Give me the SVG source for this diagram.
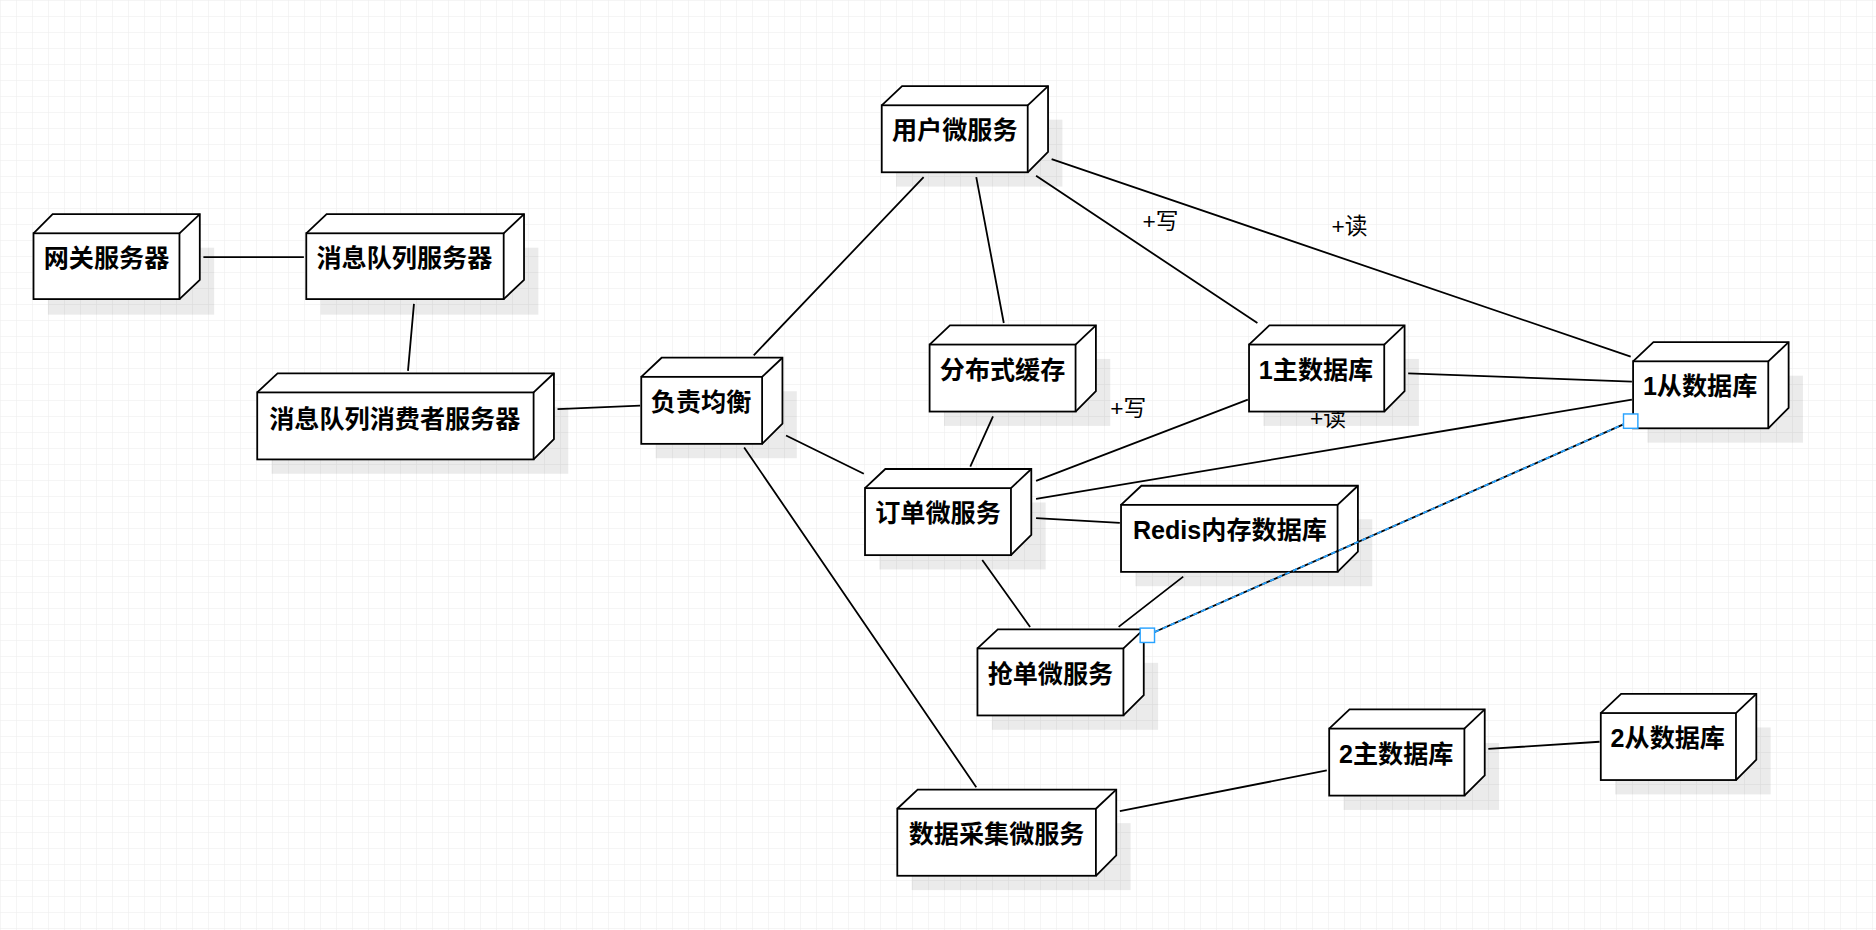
<svg xmlns="http://www.w3.org/2000/svg" width="1876" height="930" viewBox="0 0 1876 930">
<defs>
<pattern id="grid" width="16" height="16" patternUnits="userSpaceOnUse"><path d="M16 0H0V16" fill="none" stroke="#ececec" stroke-width="1"/></pattern>
<style>
.f{fill:#fff;stroke:#000;stroke-width:1.5}
.s{fill:#000;opacity:0.08}
.t{font-family:"Liberation Sans","Noto Sans CJK SC",sans-serif;font-weight:bold;font-size:21px;text-anchor:middle;dominant-baseline:central}
.l{font-family:"Liberation Sans","Noto Sans CJK SC",sans-serif;font-size:19px;text-anchor:middle;dominant-baseline:central}
.e{stroke:#000;stroke-width:1.5;fill:none}
</style>
</defs>
<rect width="1876" height="930" fill="#fff"/>
<rect width="1876" height="930" fill="url(#grid)"/>
<g transform="scale(1.1964)">
<g id="connectors">
<path class="e" d="M170 215L254 215M346 254L341 310M466 342L535 339M630 297L772 148M657 364L722 396M622 374L816 658M816 148L839 270M866 147L1051 270M879 133L1363 298M830 348L811 390M866 402L1043 334M866 417L1364 334M1177 312L1364 319M866 433L936 437M821 468L861 524M935 524L989 482M936 678L1109 644M1244 626L1337 620"/>
<text class="l" x="970" y="185">+写</text>
<text class="l" x="1128" y="189">+读</text>
<text class="l" x="943" y="341">+写</text>
<text class="l" x="1110" y="349">+读</text>
</g>
<g id="n1"><rect class="s" x="40" y="207" width="139" height="56"/><path class="f" d="M28 195L44 179L167 179L167 234L150 250"/><path class="f" d="M150 195L167 179"/><rect class="f" x="28" y="195" width="122" height="55"/><text class="t" x="89" y="216">网关服务器</text></g>
<g id="n2"><rect class="s" x="268" y="207" width="182" height="56"/><path class="f" d="M256 195L273 179L438 179L438 234L421 250"/><path class="f" d="M421 195L438 179"/><rect class="f" x="256" y="195" width="165" height="55"/><text class="t" x="338" y="216">消息队列服务器</text></g>
<g id="n3"><rect class="s" x="227" y="340" width="248" height="56"/><path class="f" d="M215 328L232 312L463 312L463 367L446 384"/><path class="f" d="M446 328L463 312"/><rect class="f" x="215" y="328" width="231" height="56"/><text class="t" x="330" y="350">消息队列消费者服务器</text></g>
<g id="n4"><rect class="s" x="548" y="327" width="118" height="56"/><path class="f" d="M536 315L553 299L654 299L654 354L637 371"/><path class="f" d="M637 315L654 299"/><rect class="f" x="536" y="315" width="101" height="56"/><text class="t" x="586" y="336">负责均衡</text></g>
<g id="n5"><rect class="s" x="749" y="100" width="139" height="56"/><path class="f" d="M737 88L754 72L876 72L876 127L859 144"/><path class="f" d="M859 88L876 72"/><rect class="f" x="737" y="88" width="122" height="56"/><text class="t" x="798" y="109">用户微服务</text></g>
<g id="n6"><rect class="s" x="789" y="300" width="139" height="56"/><path class="f" d="M777 288L794 272L916 272L916 327L899 344"/><path class="f" d="M899 288L916 272"/><rect class="f" x="777" y="288" width="122" height="56"/><text class="t" x="838" y="309">分布式缓存</text></g>
<g id="n7"><rect class="s" x="735" y="420" width="139" height="56"/><path class="f" d="M723 408L740 392L862 392L862 447L845 464"/><path class="f" d="M845 408L862 392"/><rect class="f" x="723" y="408" width="122" height="56"/><text class="t" x="784" y="429">订单微服务</text></g>
<g id="n8"><rect class="s" x="949" y="434" width="198" height="56"/><path class="f" d="M937 422L954 406L1135 406L1135 461L1118 478"/><path class="f" d="M1118 422L1135 406"/><rect class="f" x="937" y="422" width="181" height="56"/><text class="t" x="1028" y="443">Redis内存数据库</text></g>
<g id="n9"><rect class="s" x="829" y="554" width="139" height="56"/><path class="f" d="M817 542L834 526L956 526L956 581L939 598"/><path class="f" d="M939 542L956 526"/><rect class="f" x="817" y="542" width="122" height="56"/><text class="t" x="878" y="563">抢单微服务</text></g>
<g id="n10"><rect class="s" x="762" y="688" width="183" height="56"/><path class="f" d="M750 676L767 660L933 660L933 715L916 732"/><path class="f" d="M916 676L933 660"/><rect class="f" x="750" y="676" width="166" height="56"/><text class="t" x="833" y="697">数据采集微服务</text></g>
<g id="n11"><rect class="s" x="1056" y="300" width="130" height="56"/><path class="f" d="M1044 288L1061 272L1174 272L1174 327L1157 344"/><path class="f" d="M1157 288L1174 272"/><rect class="f" x="1044" y="288" width="113" height="56"/><text class="t" x="1100" y="309">1主数据库</text></g>
<g id="n12"><rect class="s" x="1377" y="314" width="130" height="56"/><path class="f" d="M1365 302L1382 286L1495 286L1495 341L1478 358"/><path class="f" d="M1478 302L1495 286"/><rect class="f" x="1365" y="302" width="113" height="56"/><text class="t" x="1421" y="323">1从数据库</text></g>
<g id="n13"><rect class="s" x="1123" y="621" width="130" height="56"/><path class="f" d="M1111 609L1128 593L1241 593L1241 648L1224 665"/><path class="f" d="M1224 609L1241 593"/><rect class="f" x="1111" y="609" width="113" height="56"/><text class="t" x="1167" y="630">2主数据库</text></g>
<g id="n14"><rect class="s" x="1350" y="608" width="130" height="56"/><path class="f" d="M1338 596L1355 580L1468 580L1468 635L1451 652"/><path class="f" d="M1451 596L1468 580"/><rect class="f" x="1338" y="596" width="113" height="56"/><text class="t" x="1394" y="617">2从数据库</text></g>
<g id="selected-connector">
<path d="M959 531L1363 352" stroke="#000" stroke-width="1.5"/>
<path d="M959 531L1363 352" stroke="#29a3ff" stroke-width="1.5" stroke-dasharray="4 3"/>
<rect x="953" y="525" width="12" height="12" fill="#fff" stroke="#29a3ff" stroke-width="1.2"/>
<rect x="1357" y="346" width="12" height="12" fill="#fff" stroke="#29a3ff" stroke-width="1.2"/>
</g>
</g>
</svg>
